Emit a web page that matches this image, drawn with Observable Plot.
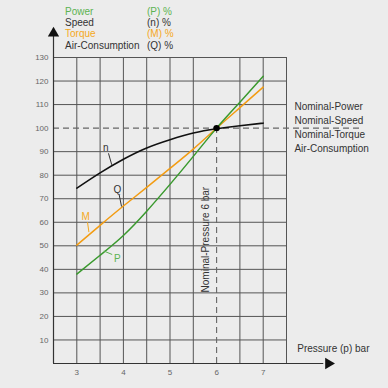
<!DOCTYPE html>
<html><head><meta charset="utf-8">
<script src="https://cdn.jsdelivr.net/npm/d3@7"></script>
<script src="https://cdn.jsdelivr.net/npm/@observablehq/plot@0.6"></script>
<style>
html,body{margin:0;padding:0;background:#ececec;}
#wrap{position:relative;width:388px;height:388px;font-family:"Liberation Sans",Arial,sans-serif;}
#legend{position:absolute;left:65px;top:5.5px;font-size:10px;line-height:11.4px;color:#333;}
#legend .row{position:relative;height:11.4px;white-space:nowrap;}
#legend .c2{position:absolute;left:82px;top:0;}
#chart{position:absolute;left:0;top:0;}
</style>
</head><body>
<div id="wrap"><div id="chart"></div><div id="legend"></div></div>
<script>
const pressure = [3, 3.5, 4, 4.5, 5, 5.5, 6, 6.5, 7];
const power  = [38, 46, 54.4, 64.7, 76.1, 88, 100, 111, 122];
const speed  = [74.5, 81, 86.8, 91.6, 95.1, 97.9, 99.7, 101, 102.1];
const torque = [50.3, 58.7, 66.9, 74.8, 82.9, 91.1, 100, 108.7, 117.4];

const legendNames = ["Power", "Speed", "Torque", "Air-Consumption"];
const legendSymbols = ["(P) %", "(n) %", "(M) %", "(Q) %"];
const legendColors = ["#5cb352", "#333333", "#f5a81c", "#333333"];

const nominalLabels = ["Nominal-Power", "Nominal-Speed", "Nominal-Torque", "Air-Consumption"];
const nominalY = [109.2, 103.2, 97.3, 91.3];

const yTicks = [10, 20, 30, 40, 50, 60, 70, 80, 90, 100, 110, 120, 130];
const xTicks = [3, 4, 5, 6, 7];
const gridXs = [3, 3.5, 4, 4.5, 5, 5.5, 6.5, 7, 7.5];
const gridYs = [10, 20, 30, 40, 50, 60, 70, 80, 90, 110, 120, 130];

// curve annotation labels: letter, label position, leader start, leader end
const annLetters = ["n", "Q", "M", "P"];
const annColors = ["#333333", "#333333", "#f5a81c", "#5cb352"];
const annX = [3.62, 3.87, 3.19, 3.87];
const annY = [91.8, 73.8, 62.4, 44.6];
const leadX1 = [3.68, 3.91, 3.23, 3.76];
const leadY1 = [89.3, 71.6, 60, 46.3];
const leadX2 = [3.75, 3.96, 3.26, 3.58];
const leadY2 = [84.4, 66.7, 55.8, 47.8];

const GREEN = "#3a9a2e", ORANGE = "#f39c12", BLACK = "#111";

const series = (vals) => pressure.map((p, i) => ({p, v: vals[i]}));
const ann = annLetters.map((t, i) => ({t, c: annColors[i], x: annX[i], y: annY[i], x1: leadX1[i], y1: leadY1[i], x2: leadX2[i], y2: leadY2[i]}));

// legend
const lg = document.getElementById("legend");
legendNames.forEach((n, i) => {
  const r = document.createElement("div");
  r.className = "row";
  r.style.color = legendColors[i];
  r.innerHTML = `<span>${n}</span><span class="c2">${legendSymbols[i]}</span>`;
  lg.appendChild(r);
});

const chart = Plot.plot({
  width: 388, height: 388,
  marginTop: 57, marginBottom: 25, marginLeft: 53, marginRight: 102,
  x: {domain: [2.5, 7.5]},
  y: {domain: [0, 130]},
  style: {background: "transparent", fontFamily: "Liberation Sans, Arial, sans-serif", fontSize: "8px", color: "#666", overflow: "visible"},
  marks: [
    Plot.ruleX(gridXs, {y1: 0, y2: 130, stroke: "#555", strokeWidth: 1, strokeOpacity: 1}),
    Plot.ruleY(gridYs, {x1: 2.5, x2: 7.5, stroke: "#555", strokeWidth: 1, strokeOpacity: 1}),
    Plot.ruleY([100], {x1: 2.5, x2: 9.1, stroke: "#666", strokeWidth: 1.1, strokeDasharray: "6,4"}),
    Plot.ruleX([6], {y1: 0, y2: 100, stroke: "#666", strokeWidth: 1.1, strokeDasharray: "6,4"}),
    // axes lines with arrows
    Plot.ruleX([2.5], {y1: 0, y2: 139, stroke: "#333", strokeWidth: 1.2}),
    Plot.ruleY([0], {x1: 2.5, x2: 8.3, stroke: "#333", strokeWidth: 1.2}),
    Plot.dot([{x: 2.5, y: 140.3}], {x: "x", y: "y", symbol: "triangle", r: 4.2, fill: "#111", stroke: "none"}),
    Plot.dot([{x: 8.4, y: 0}], {x: "x", y: "y", symbol: "triangle", r: 4.2, fill: "#111", stroke: "none", rotate: 90}),
    Plot.axisY({ticks: yTicks, tickSize: 0, tickPadding: 5, label: null, fill: "#666"}),
    Plot.axisX({ticks: xTicks, tickSize: 0, tickPadding: 6, label: null, fill: "#666", tickFormat: d => String(d)}),
    // curves
    Plot.line(series(speed), {x: "p", y: "v", stroke: BLACK, strokeWidth: 1.6, curve: "natural"}),
    Plot.line(series(torque), {x: "p", y: "v", stroke: ORANGE, strokeWidth: 1.5, curve: "natural"}),
    Plot.line(series(power), {x: "p", y: "v", stroke: GREEN, strokeWidth: 1.5, curve: "natural"}),
    Plot.dot([{x: 6, y: 100}], {x: "x", y: "y", r: 3.2, fill: "#000", stroke: "none"}),
    // annotations
    Plot.link(ann, {x1: "x1", y1: "y1", x2: "x2", y2: "y2", stroke: "c", strokeWidth: 1}),
    Plot.text(ann, {x: "x", y: "y", text: "t", fill: "c", fontSize: 10}),
    Plot.text(["Nominal-Pressure 6 bar"], {x: 5.76, y: 30.2, rotate: -90, textAnchor: "start", fontSize: 10, fill: "#333"}),
    Plot.text(nominalLabels, {x: 7.67, y: (d, i) => nominalY[i], text: d => d, textAnchor: "start", fontSize: 10, fill: "#333"}),
    Plot.text(["Pressure (p) bar"], {x: 7.73, y: 6.3, textAnchor: "start", fontSize: 10, fill: "#333"})
  ]
});
document.getElementById("chart").appendChild(chart);
</script>
</body></html>
